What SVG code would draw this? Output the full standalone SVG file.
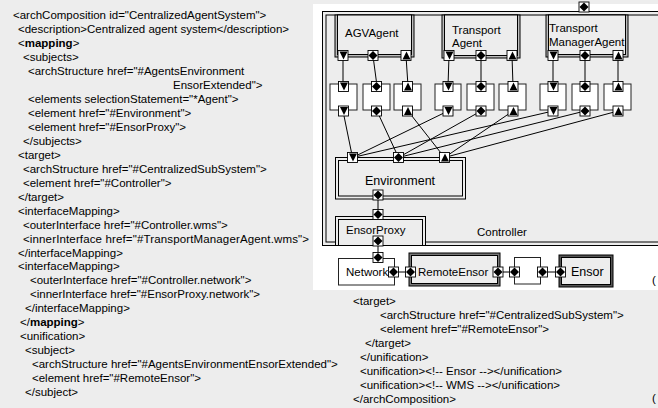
<svg xmlns="http://www.w3.org/2000/svg" xmlns:xlink="http://www.w3.org/1999/xlink" width="658" height="408" viewBox="0 0 658 408">
<style>
text{font-family:"Liberation Sans",Arial,sans-serif;font-size:11.5px;fill:#000}
.big{font-size:12.5px}
.b{font-weight:bold}
.ln{stroke:#000;stroke-width:1;fill:none}
.pr{fill:#fff;stroke:#000;stroke-width:0.9}
.wb{fill:#fff;stroke:#222;stroke-width:1}
.dbl{fill:#ededed;stroke:#000;stroke-width:1}
.band{fill:#bdbdbd;stroke:#000;stroke-width:1}
</style>
<defs>
<g id="pd"><rect class="pr" x="-5" y="-5" width="10" height="10"/><polygon points="-3.5,-4 4.5,-4 0.5,4" fill="#000"/></g>
<g id="pu"><rect class="pr" x="-5" y="-5" width="10" height="10"/><polygon points="-3.5,4 4.5,4 0.5,-4" fill="#000"/></g>
<g id="pb"><rect class="pr" x="-5" y="-5" width="10" height="10"/><polygon points="0,-4.5 4.5,0 0,4.5 -4.5,0" fill="#000"/></g>
</defs>
<rect x="0" y="0" width="658" height="408" fill="#ededed"/>
<rect x="313" y="4" width="345" height="286" fill="#fff"/>

<g id="code-left">
<text x="13" y="19">&lt;archComposition id="CentralizedAgentSystem"&gt;</text>
<text x="18" y="33">&lt;description&gt;Centralized agent system&lt;/description&gt;</text>
<text x="18" y="47">&lt;<tspan class="b">mapping</tspan>&gt;</text>
<text x="23" y="61">&lt;subjects&gt;</text>
<text x="28" y="75">&lt;archStructure href="#AgentsEnvironment</text>
<text x="173" y="89">EnsorExtended"&gt;</text>
<text x="28" y="103">&lt;elements selectionStatement="*Agent"&gt;</text>
<text x="28" y="117">&lt;element href="#Environment"&gt;</text>
<text x="28" y="131">&lt;element href="#EnsorProxy"&gt;</text>
<text x="23" y="145">&lt;/subjects&gt;</text>
<text x="18" y="159">&lt;target&gt;</text>
<text x="23" y="173">&lt;archStructure href="#CentralizedSubSystem"&gt;</text>
<text x="23" y="187">&lt;element href="#Controller"&gt;</text>
<text x="18" y="201">&lt;/target&gt;</text>
<text x="18" y="215">&lt;interfaceMapping&gt;</text>
<text x="23" y="229">&lt;outerInterface href="#Controller.wms"&gt;</text>
<text x="23" y="243" textLength="286">&lt;innerInterface href="#TransportManagerAgent.wms"&gt;</text>
<text x="18" y="257">&lt;/interfaceMapping&gt;</text>
<text x="18" y="270">&lt;interfaceMapping&gt;</text>
<text x="30" y="284">&lt;outerInterface href="#Controller.network"&gt;</text>
<text x="30" y="298">&lt;innerInterface href="#EnsorProxy.network"&gt;</text>
<text x="25" y="312">&lt;/interfaceMapping&gt;</text>
<text x="20" y="326">&lt;/<tspan class="b">mapping</tspan>&gt;</text>
<text x="20" y="340">&lt;unification&gt;</text>
<text x="25" y="354">&lt;subject&gt;</text>
<text x="32" y="368">&lt;archStructure href="#AgentsEnvironmentEnsorExtended"&gt;</text>
<text x="32" y="382">&lt;element href="#RemoteEnsor"&gt;</text>
<text x="25" y="396">&lt;/subject&gt;</text>
</g>

<g id="code-right">
<text x="353" y="305">&lt;target&gt;</text>
<text x="380" y="319">&lt;archStructure href="#CentralizedSubSystem"&gt;</text>
<text x="380" y="333">&lt;element href="#RemoteEnsor"&gt;</text>
<text x="365" y="347">&lt;/target&gt;</text>
<text x="360" y="361">&lt;/unification&gt;</text>
<text x="360" y="375">&lt;unification&gt;&lt;!-- Ensor --&gt;&lt;/unification&gt;</text>
<text x="360" y="389">&lt;unification&gt;&lt;!-- WMS --&gt;&lt;/unification&gt;</text>
<text x="353" y="403">&lt;/archComposition&gt;</text>
<text x="652" y="284">(</text>
<text x="652" y="402">(</text>
</g>

<g id="Controller">
<rect x="322.5" y="11.5" width="345" height="234" class="dbl"/>
<rect x="326" y="15" width="340" height="227" fill="none" stroke="#000"/>
<text x="477" y="236">Controller</text>
</g>

<g id="AGVAgent">
<rect x="335" y="15" width="79" height="42" class="band"/>
<rect x="337.5" y="15" width="74" height="39.5" class="dbl"/>
<text x="345" y="37">AGVAgent</text>
</g>
<g id="TransportAgent">
<rect x="442" y="15" width="78" height="43" class="band"/>
<rect x="444.5" y="15" width="73" height="40.5" class="dbl"/>
<text x="452" y="34">Transport</text>
<text x="452" y="47">Agent</text>
</g>
<g id="TransportManagerAgent">
<rect x="546" y="15" width="82" height="42" class="band"/>
<rect x="548.5" y="15" width="77" height="39.5" class="dbl"/>
<text x="549" y="32">Transport</text>
<text x="549" y="46">ManagerAgent</text>
</g>

<g id="connectors">
<line class="ln" x1="343" y1="56" x2="343" y2="86"/>
<line class="ln" x1="373" y1="56" x2="377" y2="86"/>
<line class="ln" x1="406" y1="56" x2="408" y2="86"/>
<line class="ln" x1="449" y1="56" x2="448" y2="86"/>
<line class="ln" x1="481" y1="56" x2="481" y2="86"/>
<line class="ln" x1="512" y1="56" x2="513" y2="86"/>
<line class="ln" x1="553" y1="56" x2="553" y2="86"/>
<line class="ln" x1="585" y1="56" x2="585" y2="86"/>
<line class="ln" x1="618" y1="56" x2="618" y2="86"/>
<line class="ln" x1="343" y1="111" x2="352.5" y2="157.5"/>
<line class="ln" x1="448" y1="111" x2="352.5" y2="157.5"/>
<line class="ln" x1="553" y1="111" x2="352.5" y2="157.5"/>
<line class="ln" x1="377" y1="111" x2="398.5" y2="157.5"/>
<line class="ln" x1="481" y1="111" x2="398.5" y2="157.5"/>
<line class="ln" x1="585" y1="111" x2="398.5" y2="157.5"/>
<line class="ln" x1="408" y1="111" x2="444.5" y2="157.5"/>
<line class="ln" x1="513" y1="111" x2="444.5" y2="157.5"/>
<line class="ln" x1="618" y1="111" x2="444.5" y2="157.5"/>
<line class="ln" x1="378" y1="195" x2="378" y2="214.5"/>
<line class="ln" x1="378" y1="241" x2="378" y2="257.5"/>
<line class="ln" x1="393.5" y1="272" x2="410.5" y2="272"/>
<line class="ln" x1="498" y1="272" x2="514.5" y2="272"/>
<line class="ln" x1="542.5" y1="272" x2="560.5" y2="272"/>
</g>

<g id="agent-ports">
<use xlink:href="#pd" x="343" y="55.5"/>
<use xlink:href="#pb" x="373" y="55.5"/>
<use xlink:href="#pu" x="406" y="55.5"/>
<use xlink:href="#pd" x="449" y="55.5"/>
<use xlink:href="#pb" x="481" y="55.5"/>
<use xlink:href="#pu" x="512" y="55.5"/>
<use xlink:href="#pd" x="553" y="55.5"/>
<use xlink:href="#pb" x="585" y="55.5"/>
<use xlink:href="#pu" x="618" y="55.5"/>
<use xlink:href="#pb" x="584" y="7"/>
</g>

<g id="box1"><rect class="wb" x="330" y="84" width="27" height="26"/><use xlink:href="#pd" x="343.5" y="86.5"/><use xlink:href="#pd" x="343.5" y="111"/></g>
<g id="box2"><rect class="wb" x="363" y="84" width="27" height="26"/><use xlink:href="#pb" x="376.5" y="86.5"/><use xlink:href="#pb" x="376.5" y="111"/></g>
<g id="box3"><rect class="wb" x="394" y="84" width="27" height="26"/><use xlink:href="#pu" x="407.5" y="86.5"/><use xlink:href="#pu" x="407.5" y="111"/></g>
<g id="box4"><rect class="wb" x="435" y="84" width="26" height="26"/><use xlink:href="#pd" x="448" y="86.5"/><use xlink:href="#pd" x="448" y="111"/></g>
<g id="box5"><rect class="wb" x="467" y="84" width="27" height="26"/><use xlink:href="#pb" x="481" y="86.5"/><use xlink:href="#pb" x="481" y="111"/></g>
<g id="box6"><rect class="wb" x="499" y="84" width="27" height="26"/><use xlink:href="#pu" x="513" y="86.5"/><use xlink:href="#pu" x="513" y="111"/></g>
<g id="box7"><rect class="wb" x="540" y="84" width="26" height="26"/><use xlink:href="#pd" x="553" y="86.5"/><use xlink:href="#pd" x="553" y="111"/></g>
<g id="box8"><rect class="wb" x="572" y="84" width="26" height="26"/><use xlink:href="#pb" x="585" y="86.5"/><use xlink:href="#pb" x="585" y="111"/></g>
<g id="box9"><rect class="wb" x="604" y="84" width="27" height="26"/><use xlink:href="#pu" x="618" y="86.5"/><use xlink:href="#pu" x="618" y="111"/></g>

<g id="Environment">
<rect x="335.5" y="157.5" width="130" height="41.5" class="dbl"/>
<rect x="338.5" y="160.5" width="124" height="35.5" fill="none" stroke="#000"/>
<text class="big" x="400" y="184.5" text-anchor="middle">Environment</text>
<use xlink:href="#pd" x="352.5" y="157.5"/>
<use xlink:href="#pb" x="398.5" y="157.5"/>
<use xlink:href="#pu" x="444.5" y="157.5"/>
<use xlink:href="#pb" x="378" y="195"/>
</g>

<g id="EnsorProxy">
<rect x="335.5" y="216.5" width="90" height="29" class="dbl"/>
<rect x="338.5" y="219.5" width="84" height="26" fill="none" stroke="#000"/>
<text x="346" y="233.5">EnsorProxy</text>
<use xlink:href="#pb" x="378" y="214.5"/>
<use xlink:href="#pb" x="378" y="241"/>
</g>

<g id="Network">
<rect class="wb" x="338.5" y="258.5" width="56" height="26.5"/>
<text x="346" y="276">Network</text>
<use xlink:href="#pb" x="378" y="257.5"/>
<use xlink:href="#pb" x="393.5" y="272"/>
</g>

<g id="RemoteEnsor">
<rect x="409" y="253" width="91" height="33" fill="#777" stroke="#000"/>
<rect x="411.5" y="255.5" width="86" height="28" class="dbl"/>
<text x="418" y="276">RemoteEnsor</text>
<use xlink:href="#pb" x="410.5" y="272"/>
<use xlink:href="#pb" x="498" y="272"/>
</g>

<g id="Connector">
<rect class="wb" x="514.5" y="257.5" width="26" height="26.5"/>
<use xlink:href="#pb" x="514.5" y="272"/>
<use xlink:href="#pb" x="542.5" y="272"/>
</g>

<g id="Ensor">
<rect x="559" y="255" width="54" height="32" fill="#555" stroke="#000"/>
<rect x="561.5" y="257.5" width="49" height="27" class="dbl"/>
<text class="big" x="571" y="275.5">Ensor</text>
<use xlink:href="#pb" x="560.5" y="272"/>
</g>
</svg>
